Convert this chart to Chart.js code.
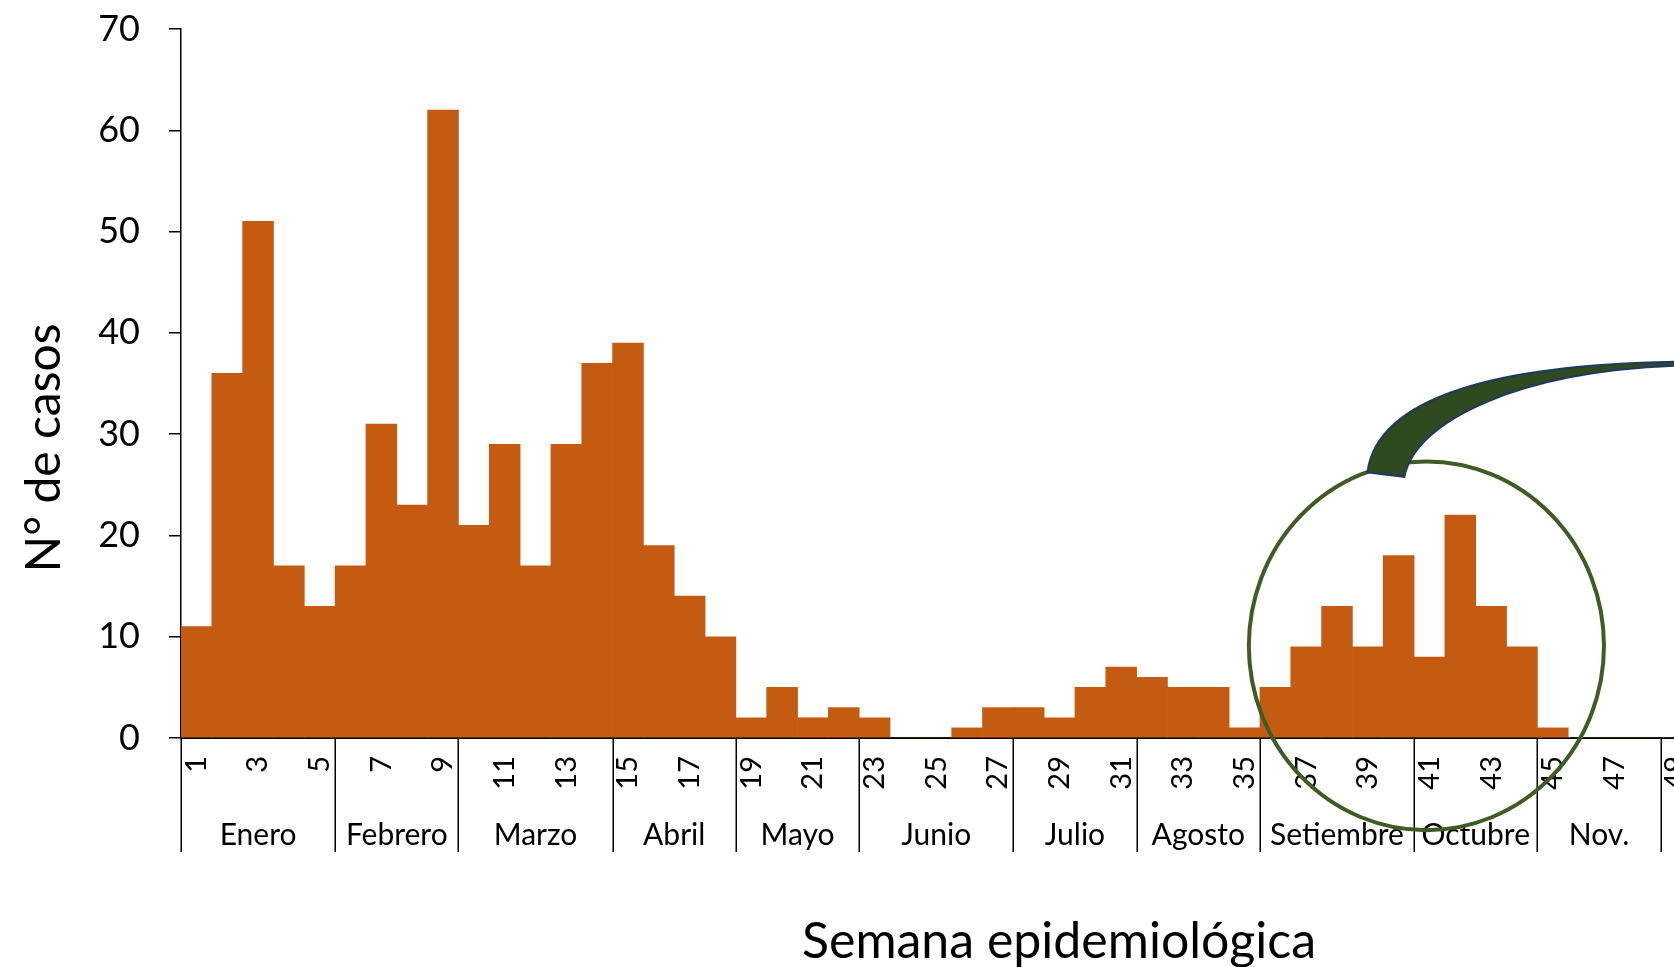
<!DOCTYPE html>
<html>
<head>
<meta charset="utf-8">
<script src="https://cdn.jsdelivr.net/npm/chart.js@4.4.1/dist/chart.umd.min.js"></script>
<style>
  html, body { margin: 0; padding: 0; background: #fff; overflow: hidden; width: 1674px; height: 967px; }
  #wrap { position: absolute; left: 0; top: 0; width: 1794px; height: 967px; }
</style>
</head>
<body>
<div id="wrap"><canvas id="chart" width="1794" height="967"></canvas></div>
<script>
// Epidemiological weeks shown on the category axis
const weekLabels = ['1','2','3','4','5','6','7','8','9','10','11','12','13','14','15','16','17','18','19','20',
  '21','22','23','24','25','26','27','28','29','30','31','32','33','34','35','36','37','38','39','40',
  '41','42','43','44','45','46','47','48','49','50','51','52'];

// Weeks that carry a visible tick label
const labelledWeeks = ['1','3','5','7','9','11','13','15','17','19','21','23','25','27','29','31','33','35',
  '37','39','41','43','45','47','49','51'];

// Number of cases per week
const cases = [11, 36, 51, 17, 13, 17, 31, 23, 62, 21,
               29, 17, 29, 37, 39, 19, 14, 10, 2, 5,
               2, 3, 2, 0, 0, 1, 3, 3, 2, 5,
               7, 6, 5, 5, 1, 5, 9, 13, 9, 18,
               8, 22, 13, 9, 1, 0, 0, 0, 0, null, null, null];

// Month groups under the week ticks
const monthNames     = ['Enero', 'Febrero', 'Marzo', 'Abril', 'Mayo', 'Junio', 'Julio', 'Agosto', 'Setiembre', 'Octubre', 'Nov.'];
const monthFirstWeek = [1, 6, 10, 15, 19, 23, 28, 32, 36, 41, 45];
const monthLastWeek  = [5, 9, 14, 18, 22, 27, 31, 35, 40, 44, 48];

// Value axis
const yMin = 0, yMax = 70, yStep = 10;

// Highlight ring around the latest rise (week position, case level, radii in axis units)
const ringWeek = 40.9, ringCases = 9.1, ringWeekRadius = 5.76, ringCasesRadius = 18.2;

const BAR = '#C55A11';
const FONT = 'Lato, "Open Sans", sans-serif';

const overlay = {
  id: 'overlay',
  afterDraw(chart) {
    const { ctx } = chart;
    const x = chart.scales.x, y = chart.scales.y;
    const axisY = y.getPixelForValue(0);
    const half = (x.getPixelForValue(1) - x.getPixelForValue(0)) / 2;
    const rightEdge = w => x.getPixelForValue(w - 1) + half;

    ctx.save();
    // month separators hanging under the axis
    ctx.strokeStyle = '#000';
    ctx.lineWidth = 1.5;
    [0].concat(monthLastWeek).forEach(w => {
      const px = Math.round(rightEdge(w)) + 0.25;
      ctx.beginPath();
      ctx.moveTo(px, axisY);
      ctx.lineTo(px, axisY + 114);
      ctx.stroke();
    });

    // month names
    ctx.fillStyle = '#000';
    ctx.font = '30px ' + FONT;
    ctx.textAlign = 'center';
    ctx.textBaseline = 'alphabetic';
    monthNames.forEach((m, i) => {
      const cx = (rightEdge(monthFirstWeek[i] - 1) + rightEdge(monthLastWeek[i])) / 2;
      ctx.fillText(m, cx, axisY + 107);
    });

    // axis titles
    ctx.font = '50px ' + FONT;
    ctx.fillText('Semana epidemiológica', 1059, 958);
    ctx.save();
    ctx.translate(60, 448);
    ctx.rotate(-Math.PI / 2);
    ctx.font = '48px ' + FONT;
    ctx.fillText('N° de casos', 0, 0);
    ctx.restore();

    // highlight ring
    const cx = x.getPixelForValue(ringWeek - 1);
    const cy = y.getPixelForValue(ringCases);
    const rx = ringWeekRadius * half * 2;
    const ry = Math.abs(y.getPixelForValue(ringCases + ringCasesRadius) - cy);
    ctx.strokeStyle = '#3E5C24';
    ctx.lineWidth = 4;
    ctx.beginPath();
    ctx.ellipse(cx, cy, rx, ry, 0, 0, Math.PI * 2);
    ctx.stroke();

    // curved callout tail leaving the ring towards the right
    ctx.beginPath();
    ctx.moveTo(cx - 59, cy - 173.5);
    ctx.bezierCurveTo(cx - 49, cy - 250, cx + 74, cy - 281, cx + 248, cy - 284);
    ctx.lineTo(cx + 360, cy - 286);
    ctx.lineTo(cx + 360, cy - 282);
    ctx.lineTo(cx + 248, cy - 280);
    ctx.bezierCurveTo(cx + 94, cy - 274, cx - 11, cy - 226, cx - 22, cy - 169);
    ctx.closePath();
    ctx.fillStyle = '#2E4A1E';
    ctx.fill();
    ctx.strokeStyle = '#1F3864';
    ctx.lineWidth = 2;
    ctx.stroke();
    ctx.restore();
  }
};

new Chart(document.getElementById('chart').getContext('2d'), {
  type: 'bar',
  data: {
    labels: weekLabels,
    datasets: [{
      data: cases,
      backgroundColor: BAR,
      borderWidth: 0,
      barPercentage: 1,
      categoryPercentage: 1
    }]
  },
  options: {
    responsive: false,
    animation: false,
    layout: { padding: { top: 29, right: 10, bottom: 0, left: 0 } },
    plugins: { legend: { display: false }, tooltip: { enabled: false } },
    scales: {
      x: {
        offset: true,
        grid: { display: false, drawTicks: false },
        border: { display: true, color: '#000', width: 2 },
        ticks: {
          autoSkip: false,
          minRotation: 90,
          maxRotation: 90,
          padding: 18,
          color: '#000',
          font: { family: FONT, size: 29 },
          callback: function (v, i) {
            const w = weekLabels[i];
            return labelledWeeks.includes(w) ? w : '';
          }
        },
        afterFit: s => { s.height = 229; s.paddingLeft = 0; s.paddingRight = 0; }
      },
      y: {
        min: yMin,
        max: yMax,
        ticks: { stepSize: yStep, padding: 29, color: '#000', font: { family: FONT, size: 36 } },
        grid: { drawOnChartArea: false, drawTicks: true, tickLength: 12, color: '#000', lineWidth: 1.5 },
        border: { display: true, color: '#000', width: 1.5 },
        afterFit: s => { s.width = 181; s.paddingTop = 0; s.paddingBottom = 0; }
      }
    }
  },
  plugins: [overlay]
});
</script>
</body>
</html>
